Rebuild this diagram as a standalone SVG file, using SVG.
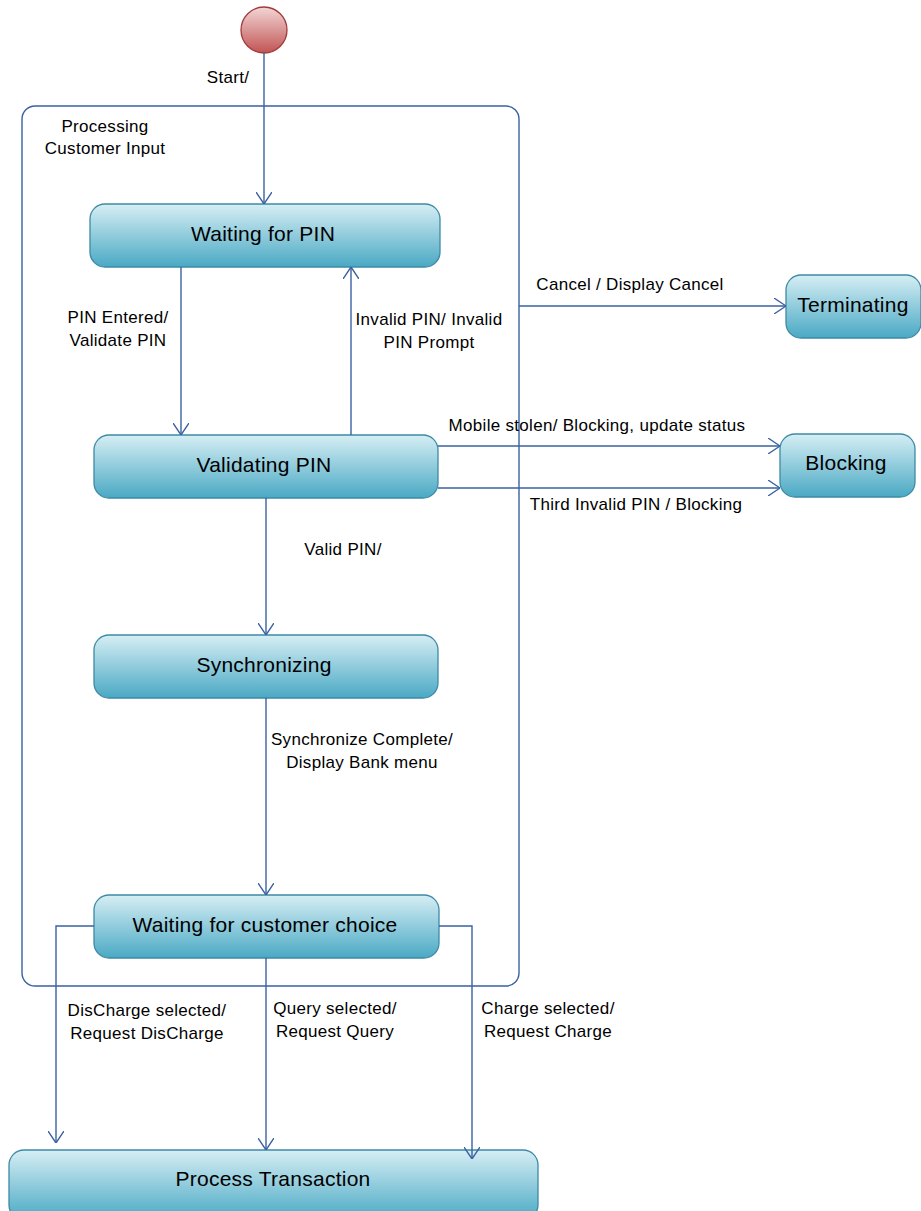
<svg xmlns="http://www.w3.org/2000/svg" width="921" height="1211" viewBox="0 0 921 1211">
  <style>
    .state { stroke: #3d8aa6; stroke-width: 1.3; fill: url(#stateFill); }
    .name { font-family: "Liberation Sans", Arial, sans-serif; font-size: 21px; letter-spacing: 0.25px; fill: #000; text-anchor: middle; }
    .lbl { font-family: "Liberation Sans", Arial, sans-serif; font-size: 17px; letter-spacing: 0.3px; fill: #000; text-anchor: middle; }
    .edge { fill: none; stroke: #3a62a0; stroke-width: 1.4; }
  </style>
  <defs>
    <linearGradient id="stateFill" x1="0" y1="0" x2="0" y2="1">
      <stop offset="0" stop-color="#d6eef4"/>
      <stop offset="1" stop-color="#4aa9c4"/>
    </linearGradient>
    <linearGradient id="startFill" x1="0" y1="0" x2="0" y2="1">
      <stop offset="0" stop-color="#f2d6d6"/>
      <stop offset="1" stop-color="#c25454"/>
    </linearGradient>
    <marker id="open" viewBox="0 0 12 16" refX="12" refY="8" markerWidth="12" markerHeight="16" markerUnits="userSpaceOnUse" orient="auto">
      <path d="M0,0 L12,8 L0,16" fill="none" stroke="#3a62a0" stroke-width="1.4"/>
    </marker>
  </defs>

  <!-- composite state -->
  <g id="processing-customer-input">
    <rect x="22" y="106" width="497" height="880" rx="13" fill="none" stroke="#3a62a0" stroke-width="1.4"/>
    <text class="lbl" x="105" y="132">Processing</text>
    <text class="lbl" x="105" y="154">Customer Input</text>
  </g>

  <g id="start">
    <circle cx="264" cy="30" r="23" fill="url(#startFill)" stroke="#a33a3a" stroke-width="1.3"/>
  </g>

  <g id="waiting-for-pin">
    <rect class="state" x="90" y="204" width="350" height="63" rx="15"/>
    <text class="name" x="263" y="241">Waiting for PIN</text>
  </g>

  <g id="validating-pin">
    <rect class="state" x="94" y="435" width="344" height="63" rx="15"/>
    <text class="name" x="264" y="472">Validating PIN</text>
  </g>

  <g id="synchronizing">
    <rect class="state" x="94" y="635" width="344" height="63" rx="15"/>
    <text class="name" x="264" y="672">Synchronizing</text>
  </g>

  <g id="waiting-for-customer-choice">
    <rect class="state" x="94" y="895" width="345" height="63" rx="15"/>
    <text class="name" x="265" y="932">Waiting for customer choice</text>
  </g>

  <g id="terminating">
    <rect class="state" x="786" y="275" width="135" height="63" rx="15"/>
    <text class="name" x="853" y="312">Terminating</text>
  </g>

  <g id="blocking">
    <rect class="state" x="780" y="434" width="135" height="63" rx="15"/>
    <text class="name" x="846" y="470">Blocking</text>
  </g>

  <g id="process-transaction">
    <rect class="state" x="9" y="1150" width="529" height="70" rx="15"/>
    <text class="name" x="273" y="1186">Process Transaction</text>
  </g>

  <!-- transitions -->
  <g id="connectors">
    <path class="edge" d="M264,53 V204" marker-end="url(#open)"/>
    <text class="lbl" x="228" y="83">Start/</text>

    <path class="edge" d="M181,267 V435" marker-end="url(#open)"/>
    <text class="lbl" x="118" y="323">PIN Entered/</text>
    <text class="lbl" x="118" y="346">Validate PIN</text>

    <path class="edge" d="M351,435 V267" marker-end="url(#open)"/>
    <text class="lbl" x="429" y="325">Invalid PIN/ Invalid</text>
    <text class="lbl" x="429" y="348">PIN Prompt</text>

    <path class="edge" d="M519,306 H786" marker-end="url(#open)"/>
    <text class="lbl" x="630" y="290">Cancel / Display Cancel</text>

    <path class="edge" d="M438,446 H780" marker-end="url(#open)"/>
    <text class="lbl" x="597" y="431">Mobile stolen/ Blocking, update status</text>

    <path class="edge" d="M438,488 H780" marker-end="url(#open)"/>
    <text class="lbl" x="636" y="510">Third Invalid PIN / Blocking</text>

    <path class="edge" d="M266,498 V635" marker-end="url(#open)"/>
    <text class="lbl" x="343" y="555">Valid PIN/</text>

    <path class="edge" d="M266,698 V895" marker-end="url(#open)"/>
    <text class="lbl" x="362" y="745">Synchronize Complete/</text>
    <text class="lbl" x="362" y="768">Display Bank menu</text>

    <path class="edge" d="M94,926 H56 V1143" marker-end="url(#open)"/>
    <text class="lbl" x="147" y="1016">DisCharge selected/</text>
    <text class="lbl" x="147" y="1039">Request DisCharge</text>

    <path class="edge" d="M266,958 V1150" marker-end="url(#open)"/>
    <text class="lbl" x="335" y="1014">Query selected/</text>
    <text class="lbl" x="335" y="1037">Request Query</text>

    <path class="edge" d="M439,926 H472 V1159" marker-end="url(#open)"/>
    <text class="lbl" x="548" y="1014">Charge selected/</text>
    <text class="lbl" x="548" y="1037">Request Charge</text>
  </g>
</svg>
